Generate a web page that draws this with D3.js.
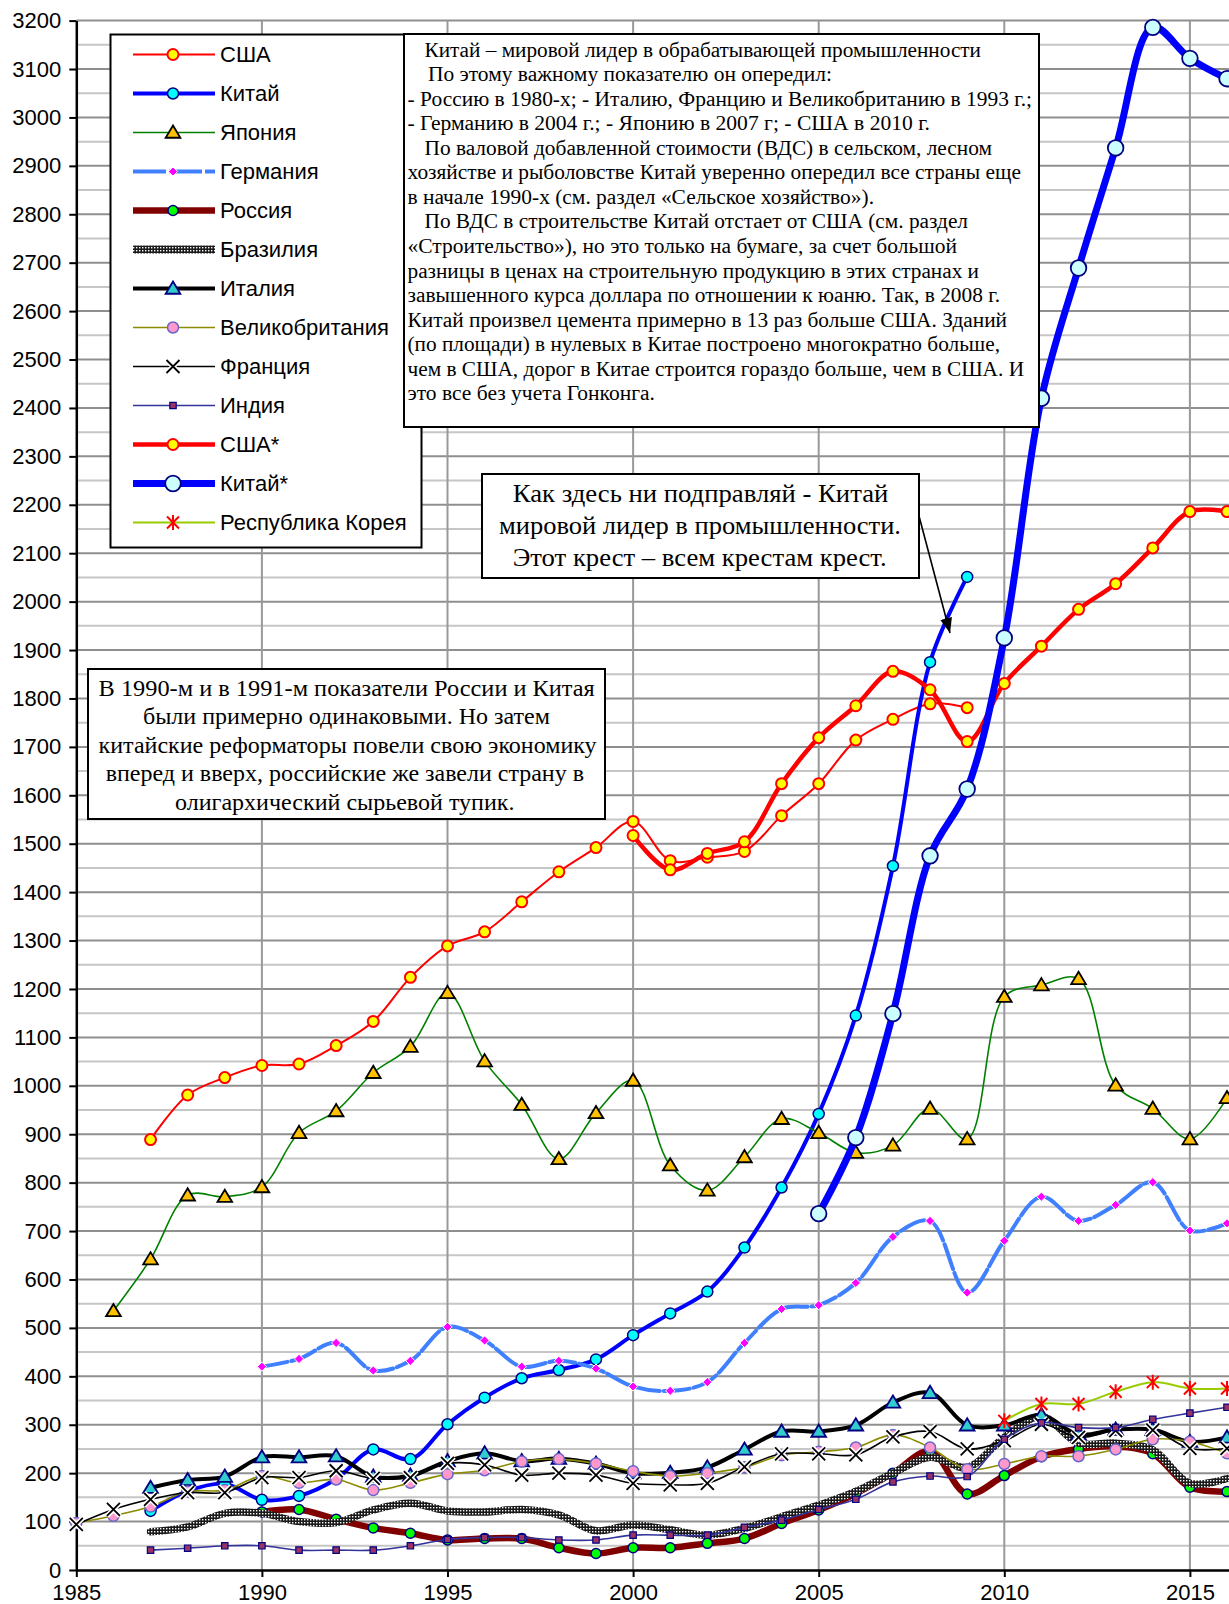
<!DOCTYPE html>
<html>
<head>
<meta charset="utf-8">
<style>
body { margin: 0; background: #fff; }
svg { display: block; background: #fff; }
.axis text { font-family: "Liberation Sans", Arial, sans-serif; font-size: 22px; fill: #000; }
.legend text { font-family: "Liberation Sans", Arial, sans-serif; font-size: 22px; fill: #000; }
.note text { font-family: "Liberation Serif", "Times New Roman", serif; fill: #000; }
</style>
</head>
<body>
<svg width="1229" height="1604"></svg>
<script src="https://cdnjs.cloudflare.com/ajax/libs/d3/7.8.5/d3.min.js"></script>
<script>

// values, one array per series (first year given separately)
var usaStart = 1987,
    usa = [889, 981, 1017, 1042, 1045, 1083, 1133, 1224, 1289, 1318, 1380, 1442, 1492, 1546, 1465, 1472, 1484, 1558, 1624, 1714, 1757, 1789, 1781];
var chinaStart = 1987,
    china = [122, 163, 178, 145, 153, 188, 249, 229, 301, 356, 396, 413, 435, 485, 530, 575, 666, 790, 942, 1145, 1454, 1875, 2051];
var japanStart = 1986,
    japan = [535, 642, 774, 771, 791, 903, 948, 1027, 1081, 1192, 1051, 961, 849, 944, 1011, 836, 784, 853, 932, 903, 862, 877, 953, 890, 1184, 1208, 1221, 1001, 953, 890, 975];
var germanyStart = 1990,
    germany = [420, 436, 469, 412, 432, 502, 474, 420, 432, 416, 379, 370, 388, 469, 539, 547, 593, 688, 721, 573, 680, 771, 721, 754, 801, 701, 716];
var russiaStart = 1990,
    russia = [120, 125, 105, 87, 76, 62, 65, 65, 46, 34, 46, 46, 55, 65, 96, 124, 158, 200, 245, 157, 195, 234, 250, 255, 240, 171, 162];
var brazilStart = 1987,
    brazil = [79, 89, 117, 117, 100, 98, 124, 138, 122, 120, 125, 114, 81, 93, 83, 72, 86, 110, 134, 162, 200, 233, 212, 274, 317, 262, 262, 248, 179, 189];
var italyStart = 1987,
    italy = [170, 186, 193, 233, 233, 235, 193, 195, 225, 241, 225, 230, 220, 200, 201, 212, 249, 286, 286, 299, 346, 366, 299, 299, 320, 280, 290, 290, 265, 274];
var ukStart = 1985,
    uk = [97, 112, 131, 162, 165, 194, 180, 187, 165, 180, 198, 206, 224, 229, 220, 204, 194, 200, 212, 237, 244, 253, 279, 253, 208, 219, 235, 235, 249, 270, 265, 241];
var franceStart = 1985,
    france = [94, 125, 146, 160, 160, 191, 191, 205, 189, 191, 220, 217, 196, 200, 196, 179, 176, 179, 213, 240, 240, 238, 275, 286, 250, 267, 301, 274, 288, 289, 251, 251];
var indiaStart = 1987,
    india = [41, 45, 50, 50, 41, 41, 41, 50, 63, 67, 67, 62, 62, 72, 72, 72, 88, 103, 125, 146, 182, 194, 193, 270, 304, 294, 294, 311, 324, 336];
var usaStarStart = 2000,
    usaStar = [1517, 1446, 1480, 1504, 1624, 1719, 1785, 1856, 1818, 1711, 1831, 1908, 1984, 2037, 2111, 2186, 2186];
var chinaStarStart = 2005,
    chinaStar = [736, 893, 1149, 1475, 1613, 1925, 2420, 2689, 2937, 3186, 3122, 3080];
var koreaStart = 2010,
    korea = [308, 343, 343, 368, 388, 375, 375];

var yTicks = d3.range(0, 3201, 100);
var xTicks = d3.range(1985, 2016, 5);

// annotation texts
var noteMain = [
  "Китай – мировой лидер в обрабатывающей промышленности",
  "По этому важному показателю он опередил:",
  "- Россию в 1980-х; - Италию, Францию и Великобританию в 1993 г.;",
  "- Германию в 2004 г.; - Японию в 2007 г; - США в 2010 г.",
  "По валовой добавленной стоимости (ВДС) в сельском, лесном",
  "хозяйстве и рыболовстве Китай уверенно опередил все страны еще",
  "в начале 1990-х (см. раздел «Сельское хозяйство»).",
  "По ВДС в строительстве Китай отстает от США (см. раздел",
  "«Строительство»), но это только на бумаге, за счет большой",
  "разницы в ценах на строительную продукцию в этих странах и",
  "завышенного курса доллара по отношении к юаню. Так, в 2008 г.",
  "Китай произвел цемента примерно в 13 раз больше США. Зданий",
  "(по площади) в нулевых в Китае построено многократно больше,",
  "чем в США, дорог в Китае строится гораздо больше, чем в США. И",
  "это все без учета Гонконга."
];
var noteRussia = [
  "В 1990-м и в 1991-м показатели  России и Китая",
  "были примерно одинаковыми. Но затем",
  "китайские реформаторы повели свою экономику",
  "вперед и вверх, российские же завели страну в",
  "олигархический сырьевой тупик."
];
var noteCross = [
  "Как здесь ни подправляй - Китай",
  "мировой лидер в промышленности.",
  "Этот крест – всем крестам крест."
];

var svg = d3.select("svg");

var defs = svg.append("defs");
var pat = defs.append("pattern").attr("id", "brazil")
    .attr("width", 3).attr("height", 3).attr("patternUnits", "userSpaceOnUse");
pat.append("rect").attr("width", 3).attr("height", 3).attr("fill", "#1a1a1a");
pat.append("rect").attr("x", 1).attr("y", 1).attr("width", 1.4).attr("height", 1.4).attr("fill", "#fff");
defs.append("marker").attr("id", "arrow")
    .attr("markerUnits", "userSpaceOnUse")
    .attr("markerWidth", 16).attr("markerHeight", 14)
    .attr("refX", 15).attr("refY", 6).attr("orient", "auto")
  .append("path").attr("d", "M0,0L15,6L0,12Z").attr("fill", "#000");

var x = d3.scaleLinear().domain([1985, 2020]).range([76.3, 76.3 + 35 * 37.12]);
var y = d3.scaleLinear().domain([0, 3200]).range([1570, 20.6]);

// grid
svg.append("g").selectAll("line")
  .data(d3.range(50, 3201, 50))
  .join("line")
    .attr("x1", x(1985)).attr("x2", 1229)
    .attr("y1", function(d) { return y(d); }).attr("y2", function(d) { return y(d); })
    .attr("stroke", function(d) { return d % 100 === 0 ? "#8f8f8f" : "#c6c6c6"; })
    .attr("stroke-width", 2);
svg.append("g").selectAll("line")
  .data(d3.range(1990, 2021, 5))
  .join("line")
    .attr("x1", function(d) { return x(d); }).attr("x2", function(d) { return x(d); })
    .attr("y1", y(3200)).attr("y2", y(0))
    .attr("stroke", "#999").attr("stroke-width", 2);

// axes
var yAxis = svg.append("g").attr("class", "axis")
    .attr("transform", "translate(" + x(1985) + ",0)")
    .call(d3.axisLeft(y).tickValues(yTicks).tickSize(7).tickSizeOuter(0).tickPadding(8).tickFormat(d3.format("d")));
var xAxis = svg.append("g").attr("class", "axis")
    .attr("transform", "translate(0," + y(0) + ")")
    .call(d3.axisBottom(x).tickValues(xTicks).tickSize(7).tickSizeOuter(0).tickPadding(7).tickFormat(d3.format("d")));
svg.selectAll(".axis .domain").attr("stroke", "#000").attr("stroke-width", 2.5);
svg.selectAll(".axis .tick line").attr("stroke", "#000").attr("stroke-width", 2);

// marker shapes
function markerPath(type, s) {
  if (type === "circle") return "M" + s + ",0A" + s + "," + s + " 0 1 1 " + (-s) + ",0A" + s + "," + s + " 0 1 1 " + s + ",0Z";
  if (type === "triangle") return "M0," + (-s) + "L" + (s * 1.05) + "," + (s * 0.75) + "L" + (-s * 1.05) + "," + (s * 0.75) + "Z";
  if (type === "diamond") return "M0," + (-s) + "L" + s + ",0L0," + s + "L" + (-s) + ",0Z";
  if (type === "square") return "M" + (-s) + "," + (-s) + "H" + s + "V" + s + "H" + (-s) + "Z";
  if (type === "x") return "M" + (-s) + "," + (-s) + "L" + s + "," + s + "M" + s + "," + (-s) + "L" + (-s) + "," + s;
  if (type === "star") return "M" + (-s * 0.8) + "," + (-s * 0.8) + "L" + (s * 0.8) + "," + (s * 0.8) + "M" + (s * 0.8) + "," + (-s * 0.8) + "L" + (-s * 0.8) + "," + (s * 0.8) + "M0," + (-s) + "V" + s;
  return "";
}

var series = [
  {name: "США", start: usaStart, values: usa, color: "#ff0000", width: 2, marker: "circle", size: 5.5, fill: "#ffff00", stroke: "#ff0000", sw: 2},
  {name: "Китай", start: chinaStart, values: china, color: "#0000ff", width: 4, marker: "circle", size: 5.5, fill: "#00ffff", stroke: "#000080", sw: 1.5},
  {name: "Япония", start: japanStart, values: japan, color: "#008000", width: 1.6, marker: "triangle", size: 7, fill: "#ffc000", stroke: "#000", sw: 1.8},
  {name: "Германия", start: germanyStart, values: germany, color: "#4080ff", width: 4, dash: "26,4", marker: "diamond", size: 4.6, fill: "#ff00ff", stroke: "#fff", sw: 1},
  {name: "Россия", start: russiaStart, values: russia, color: "#800000", width: 6.5, marker: "circle", size: 5, fill: "#00ff00", stroke: "#000080", sw: 1.5},
  {name: "Бразилия", start: brazilStart, values: brazil, color: "url(#brazil)", width: 7.5, marker: null},
  {name: "Италия", start: italyStart, values: italy, color: "#000", width: 4, marker: "triangle", size: 7, fill: "#33cccc", stroke: "#000080", sw: 1.8},
  {name: "Великобритания", start: ukStart, values: uk, color: "#8c8c00", width: 1.6, marker: "circle", size: 5.5, fill: "#ff99cc", stroke: "#6666cc", sw: 1.5},
  {name: "Франция", start: franceStart, values: france, color: "#000", width: 1.6, marker: "x", size: 6.5, fill: "none", stroke: "#000", sw: 1.8, halo: true},
  {name: "Индия", start: indiaStart, values: india, color: "#333399", width: 1.6, marker: "square", size: 3.2, fill: "#993366", stroke: "#000080", sw: 1.2},
  {name: "США*", start: usaStarStart, values: usaStar, color: "#ff0000", width: 4.5, marker: "circle", size: 5.5, fill: "#ffff00", stroke: "#ff0000", sw: 2},
  {name: "Китай*", start: chinaStarStart, values: chinaStar, color: "#0000ff", width: 7, marker: "circle", size: 7.8, fill: "#ccffff", stroke: "#000080", sw: 1.8},
  {name: "Республика Корея", start: koreaStart, values: korea, color: "#99cc00", width: 2, marker: "star", size: 7.5, fill: "none", stroke: "#ff0000", sw: 2}
];

var line = d3.line()
    .x(function(d) { return x(d.year); })
    .y(function(d) { return y(d.v); })
    .curve(d3.curveCatmullRom.alpha(0.5));

function drawMarkers(g, s, pts) {
  if (!s.marker) return;
  if (s.halo) {
    g.selectAll("path.halo").data(pts).join("path").attr("class", "halo")
      .attr("transform", function(d) { return "translate(" + d[0] + "," + d[1] + ")"; })
      .attr("d", markerPath(s.marker, s.size))
      .attr("fill", "none").attr("stroke", "#fff").attr("stroke-width", 5);
  }
  g.selectAll("path.mk").data(pts).join("path").attr("class", "mk")
    .attr("transform", function(d) { return "translate(" + d[0] + "," + d[1] + ")"; })
    .attr("d", markerPath(s.marker, s.size))
    .attr("fill", s.fill).attr("stroke", s.stroke).attr("stroke-width", s.sw)
    .attr("stroke-linejoin", "miter");
}

var plot = svg.append("g");
series.forEach(function(s) {
  var data = s.values.map(function(v, i) { return {year: s.start + i, v: v}; });
  var g = plot.append("g");
  g.append("path").datum(data)
    .attr("d", line)
    .attr("fill", "none")
    .attr("stroke", s.color)
    .attr("stroke-width", s.width)
    .attr("stroke-dasharray", s.dash || null)
    .attr("stroke-linejoin", "round")
    .attr("stroke-linecap", "round");
  drawMarkers(g, s, data.map(function(d) { return [x(d.year), y(d.v)]; }));
});

// legend
var legend = svg.append("g").attr("class", "legend");
legend.append("rect").attr("x", 110.5).attr("y", 34.5).attr("width", 311).attr("height", 513)
  .attr("fill", "#fff").attr("stroke", "#000").attr("stroke-width", 2);
series.forEach(function(s, i) {
  var ly = 54.5 + i * 39;
  var row = legend.append("g");
  row.append("line").attr("x1", 133).attr("x2", 215).attr("y1", ly).attr("y2", ly)
    .attr("stroke", s.color).attr("stroke-width", s.name === "Бразилия" ? 8 : s.width)
    .attr("stroke-dasharray", s.dash ? "33,3" : null);
  drawMarkers(row, s, [[173, ly]]);
  row.append("text").attr("x", 220).attr("y", ly).attr("dy", "0.36em").text(s.name);
});

// text boxes
function noteBox(lines, box, opts) {
  var g = svg.append("g").attr("class", "note");
  g.append("rect").attr("x", box[0]).attr("y", box[1]).attr("width", box[2] - box[0]).attr("height", box[3] - box[1])
    .attr("fill", "#fff").attr("stroke", "#000").attr("stroke-width", 2);
  g.selectAll("text").data(lines).join("text")
    .attr("x", function(d, i) { return opts.x0[i]; })
    .attr("y", function(d, i) { return opts.base + i * opts.step; })
    .attr("font-size", opts.size)
    .attr("textLength", function(d, i) { return opts.x1[i] - opts.x0[i]; })
    .attr("lengthAdjust", "spacingAndGlyphs")
    .text(function(d) { return d; });
}

noteBox(noteMain, [404, 34, 1039, 427], {
  size: 20, base: 56.5, step: 24.56,
  x0: [424.5, 428, 407.5, 407.5, 424.5, 407.5, 407.5, 424.5, 407.5, 407.5, 407.5, 407.5, 407.5, 407.5, 407.5],
  x1: [981, 832, 1032, 930, 992, 1021, 874, 968, 957, 979, 1000, 1007, 1000, 1024, 655]
});
noteBox(noteRussia, [88, 669, 605, 819], {
  size: 24, base: 696, step: 28.4,
  x0: [98.6, 143, 98.6, 105.7, 175],
  x1: [594.8, 550, 596.6, 584, 514.5]
});
noteBox(noteCross, [482, 474, 919, 578], {
  size: 25, base: 501.5, step: 32,
  x0: [512.7, 499, 512.7],
  x1: [888.3, 901, 886.7]
});

// arrow from the box to the China line
svg.append("line")
  .attr("x1", 919).attr("y1", 516)
  .attr("x2", 950).attr("y2", 633)
  .attr("stroke", "#000").attr("stroke-width", 1.6)
  .attr("marker-end", "url(#arrow)");

</script>
</body>
</html>
